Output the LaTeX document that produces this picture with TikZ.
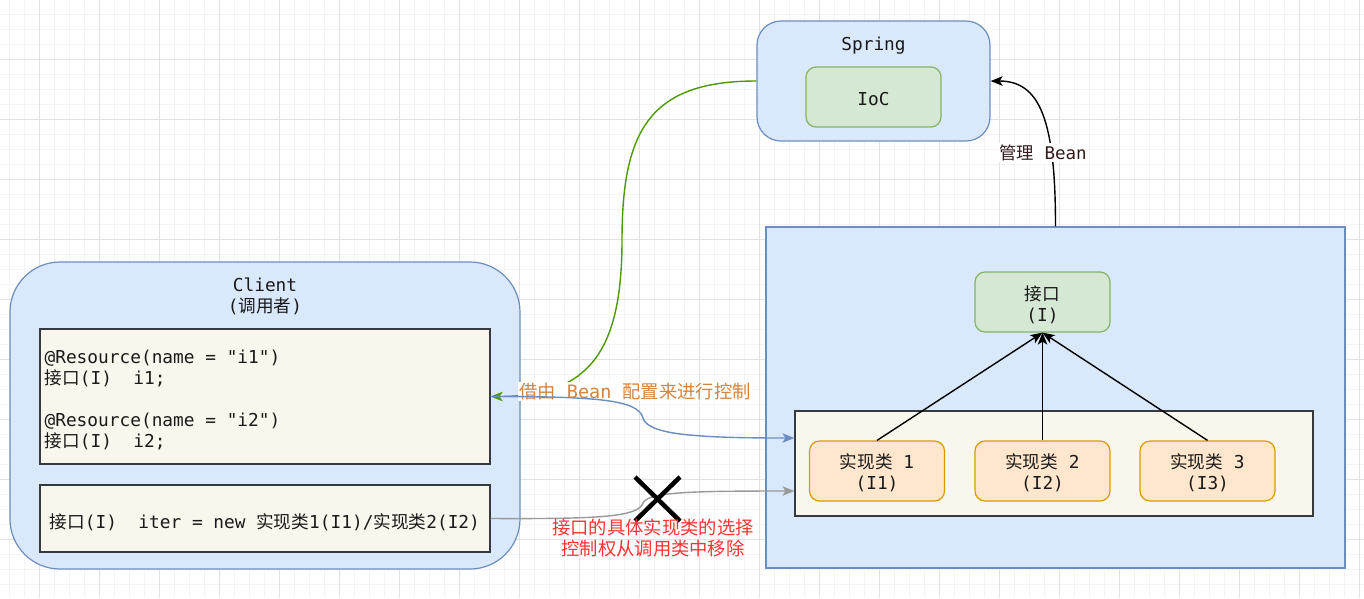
\documentclass[tikz,border=0pt]{standalone}
\usepackage{fontspec}
\setmainfont{DejaVu Sans Mono}
\setmonofont{DejaVu Sans Mono}
\renewcommand\familydefault{\ttdefault}
\newfontfamily\cjk{Noto Sans CJK SC}[Scale=0.99]
\newcommand\ms{\hspace*{0.602em}}
\usetikzlibrary{arrows.meta,calc}

\definecolor{bluefill}{HTML}{DAE8FC}
\definecolor{bluedraw}{HTML}{6C8EBF}
\definecolor{greenfill}{HTML}{D5E8D4}
\definecolor{greendraw}{HTML}{82B366}
\definecolor{orangefill}{HTML}{FFE6CC}
\definecolor{orangedraw}{HTML}{D79B00}
\definecolor{codefill}{HTML}{F9F7ED}
\definecolor{codedraw}{HTML}{36393D}
\definecolor{gridmajor}{HTML}{E2E2E2}
\definecolor{gridminor}{HTML}{F4F4F4}
\definecolor{greenedge}{HTML}{4D9900}
\definecolor{grayedge}{HTML}{999999}
\definecolor{labelorange}{HTML}{D4843C}
\definecolor{labelred}{HTML}{FF3333}
\definecolor{labeldark}{HTML}{331A1A}
\definecolor{textdark}{HTML}{1A1A1A}

\begin{document}
\begin{tikzpicture}[x=1pt,y=-1pt,
  base/.style={font=\ttfamily\fontsize{17.8}{21}\selectfont, text=textdark, line width=1.2pt, inner sep=0pt},
  bluebox/.style={base, draw=bluedraw, fill=bluefill},
  greenbox/.style={base, draw=greendraw, fill=greenfill, rounded corners=10pt, minimum width=135pt, minimum height=60pt},
  implbox/.style={base, draw=orangedraw, fill=orangefill, rounded corners=10pt, minimum width=135pt, minimum height=60pt},
  codebox/.style={base, draw=codedraw, fill=codefill},
  boxtext/.style={base, align=center},
  codetext/.style={base, align=left, anchor=west},
  tip/.style={-{Stealth[length=12pt,width=9.5pt,inset=3pt]}},
  conn/.style={line width=1.4pt},
  edgelabel/.style={font=\ttfamily\fontsize{18.5}{21}\selectfont, inner sep=1pt, align=center},
]
\useasboundingbox (0,0) rectangle (1364,598);
\fill[white] (0,0) rectangle (1364,598);
% grid
\foreach \x in {9.5,24.5,...,1364} \draw[gridminor, line width=1pt] (\x,0) -- (\x,598);
\foreach \y in {14.5,29.5,...,598} \draw[gridminor, line width=1pt] (0,\y) -- (1364,\y);
\foreach \x in {39.5,99.5,...,1364} \draw[gridmajor, line width=1pt] (\x,0) -- (\x,598);
\foreach \y in {59.5,119.5,...,598} \draw[gridmajor, line width=1pt] (0,\y) -- (1364,\y);

% Client
\node[bluebox, rounded corners=50pt, minimum width=510pt, minimum height=307pt] (client) at (265,415.5) {};
\node[boxtext] (clienttitle) at (265,296) {Client\\({\cjk 调用者})};
\node[codebox, minimum width=450pt, minimum height=135pt] (code1) at (265,396.5) {};
\node[codetext] (code1text) at (44,399.5)
  {@Resource(name\ms=\ms\symbol{34}i1\symbol{34})\\{\cjk 接口}(I)\ms\ms i1;\\[21pt]@Resource(name\ms=\ms\symbol{34}i2\symbol{34})\\{\cjk 接口}(I)\ms\ms i2;};
\node[codebox, minimum width=450pt, minimum height=67pt] (code2) at (265,518.5) {};
\node[codetext] (code2text) at (49,522)
  {{\cjk 接口}(I)\ms\ms iter\ms=\ms new\ms{\cjk 实现类}1(I1)/{\cjk 实现类}2(I2)};

% Spring
\node[bluebox, rounded corners=24pt, minimum width=233pt, minimum height=120pt] (spring) at (873.5,81) {};
\node[boxtext] (springtitle) at (873.5,46) {Spring};
\node[greenbox] (ioc) at (873.5,97) {};
\node[boxtext] (ioctext) at (873.5,99) {IoC};

% right container
\node[bluebox, minimum width=579pt, minimum height=341pt] (container) at (1055.5,397.5) {};
\node[greenbox] (iface) at (1042.5,302) {};
\node[boxtext] (ifacetext) at (1042.5,305) {{\cjk 接口}\\(I)};
\node[codebox, minimum width=518pt, minimum height=105pt] (inner) at (1054,463.5) {};
\node[implbox] (impl1) at (877,471) {};
\node[implbox] (impl2) at (1042.5,471) {};
\node[implbox] (impl3) at (1207.5,471) {};
\node[boxtext] (impl1text) at (877,473) {{\cjk 实现类}\ms 1\\(I1)};
\node[boxtext] (impl2text) at (1042.5,473) {{\cjk 实现类}\ms 2\\(I2)};
\node[boxtext] (impl3text) at (1207.5,473) {{\cjk 实现类}\ms 3\\(I3)};

% green edge: Spring -> code1
\coordinate (gmid) at (622,240);
\draw[conn, greenedge, tip] (spring.west) .. controls (650,81) and (622,130) .. (gmid)
  .. controls (622,350) and (590,396.5) .. (code1.east);
\node[edgelabel, fill=white, text=labelorange] (beanlabel) at (635,391.5) {{\cjk 借由}\ms Bean\ms{\cjk 配置来进行控制}};

% blue edge: code1 -> inner
\coordinate (bmid) at (643,418);
\coordinate (binner) at ([yshift=25.5pt]inner.west);
\draw[conn, bluedraw, tip] (code1.east) .. controls (600,396.5) and (638,400) .. (bmid)
  .. controls (648,434) and (690,438) .. (binner);

% gray edge: code2 -> inner
\coordinate (cmid) at (643,503);
\coordinate (cinner) at ([yshift=-27.5pt]inner.west);
\draw[conn, grayedge, tip] (code2.east) .. controls (600,519) and (638,517) .. (cmid)
  .. controls (648,492) and (690,491) .. (cinner);

% cross
\draw[line width=4.5pt, black] (635,477) -- (680,521);
\draw[line width=4.5pt, black] (680,477) -- (635,521);

\node[edgelabel, text=labelred] (removelabel) at (653,538.5) {{\cjk 接口的具体实现类的选择}\\{\cjk 控制权从调用类中移除}};

% implementation arrows
\draw[conn, black, tip] (impl1.north) -- (iface.south);
\draw[conn, black, tip] (impl2.north) -- (iface.south);
\draw[conn, black, tip] (impl3.north) -- (iface.south);

% manage bean
\draw[conn, black, tip] (container.north) .. controls (1055.5,120) and (1040,81) .. (spring.east);
\node[edgelabel, fill=white, text=labeldark, font=\ttfamily\fontsize{17.5}{21}\selectfont] (managelabel) at (1043,152.5) {{\cjk 管理}\ms Bean};
\end{tikzpicture}
\end{document}
